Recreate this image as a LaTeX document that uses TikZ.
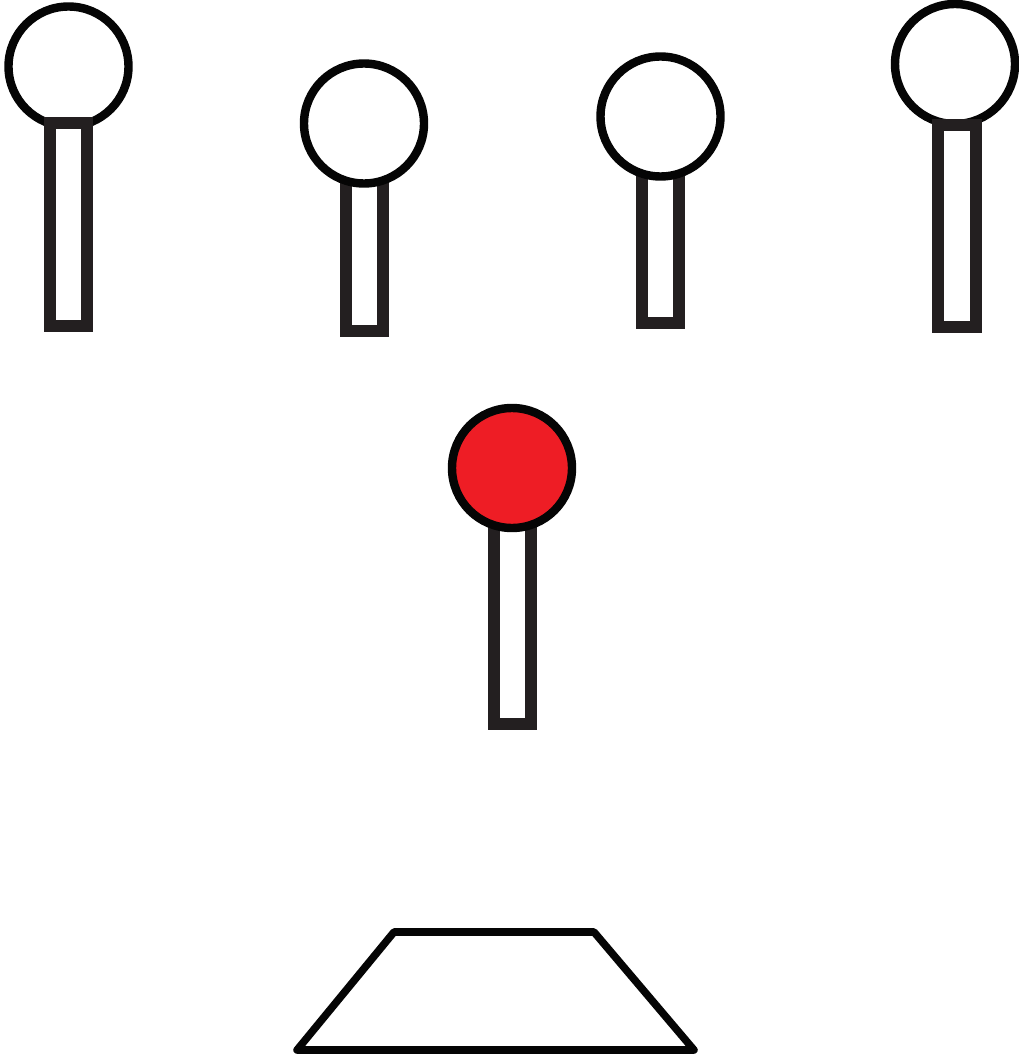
\documentclass[tikz,border=0pt]{standalone}
\usepackage{tikz}
\usepackage{xcolor}
\definecolor{ink}{HTML}{050505}
\definecolor{stickgray}{HTML}{231F20}
\definecolor{pinred}{HTML}{EE1D25}
\tikzset{
  stickbox/.style={draw=stickgray,fill=white,line width=6.8pt},
  pinhead/.style={draw=ink,fill=white,line width=4.8pt},
  redhead/.style={pinhead,fill=pinred},
  basebox/.style={draw=ink,fill=white,line width=4.3pt,line join=round}
}

\begin{document}
\begin{tikzpicture}[x=0.02cm,y=-0.02cm]
    \path[use as bounding box] (0,0) rectangle (1018,1057);
    % outer pins: stick in front of the head
    \draw[pinhead] (68.5,66.5) circle[radius=60];
    \draw[stickbox] (50,123) rectangle (87,326);
    \draw[pinhead] (955,64) circle[radius=60];
    \draw[stickbox] (938,125) rectangle (976,327);
    % inner pins: head in front of the stick
    \draw[stickbox] (346,170) rectangle (383,331);
    \draw[pinhead] (364,123.5) circle[radius=60];
    \draw[stickbox] (642,165) rectangle (679,323);
    \draw[pinhead] (660.5,116.5) circle[radius=60];
    % red pin
    \draw[stickbox] (494,515) rectangle (531,724);
    \draw[redhead] (512,468) circle[radius=60];
    % base
    \draw[basebox] (297,1050) -- (394,932) -- (594,932) -- (694,1050) -- cycle;
  \end{tikzpicture}
\end{document}
